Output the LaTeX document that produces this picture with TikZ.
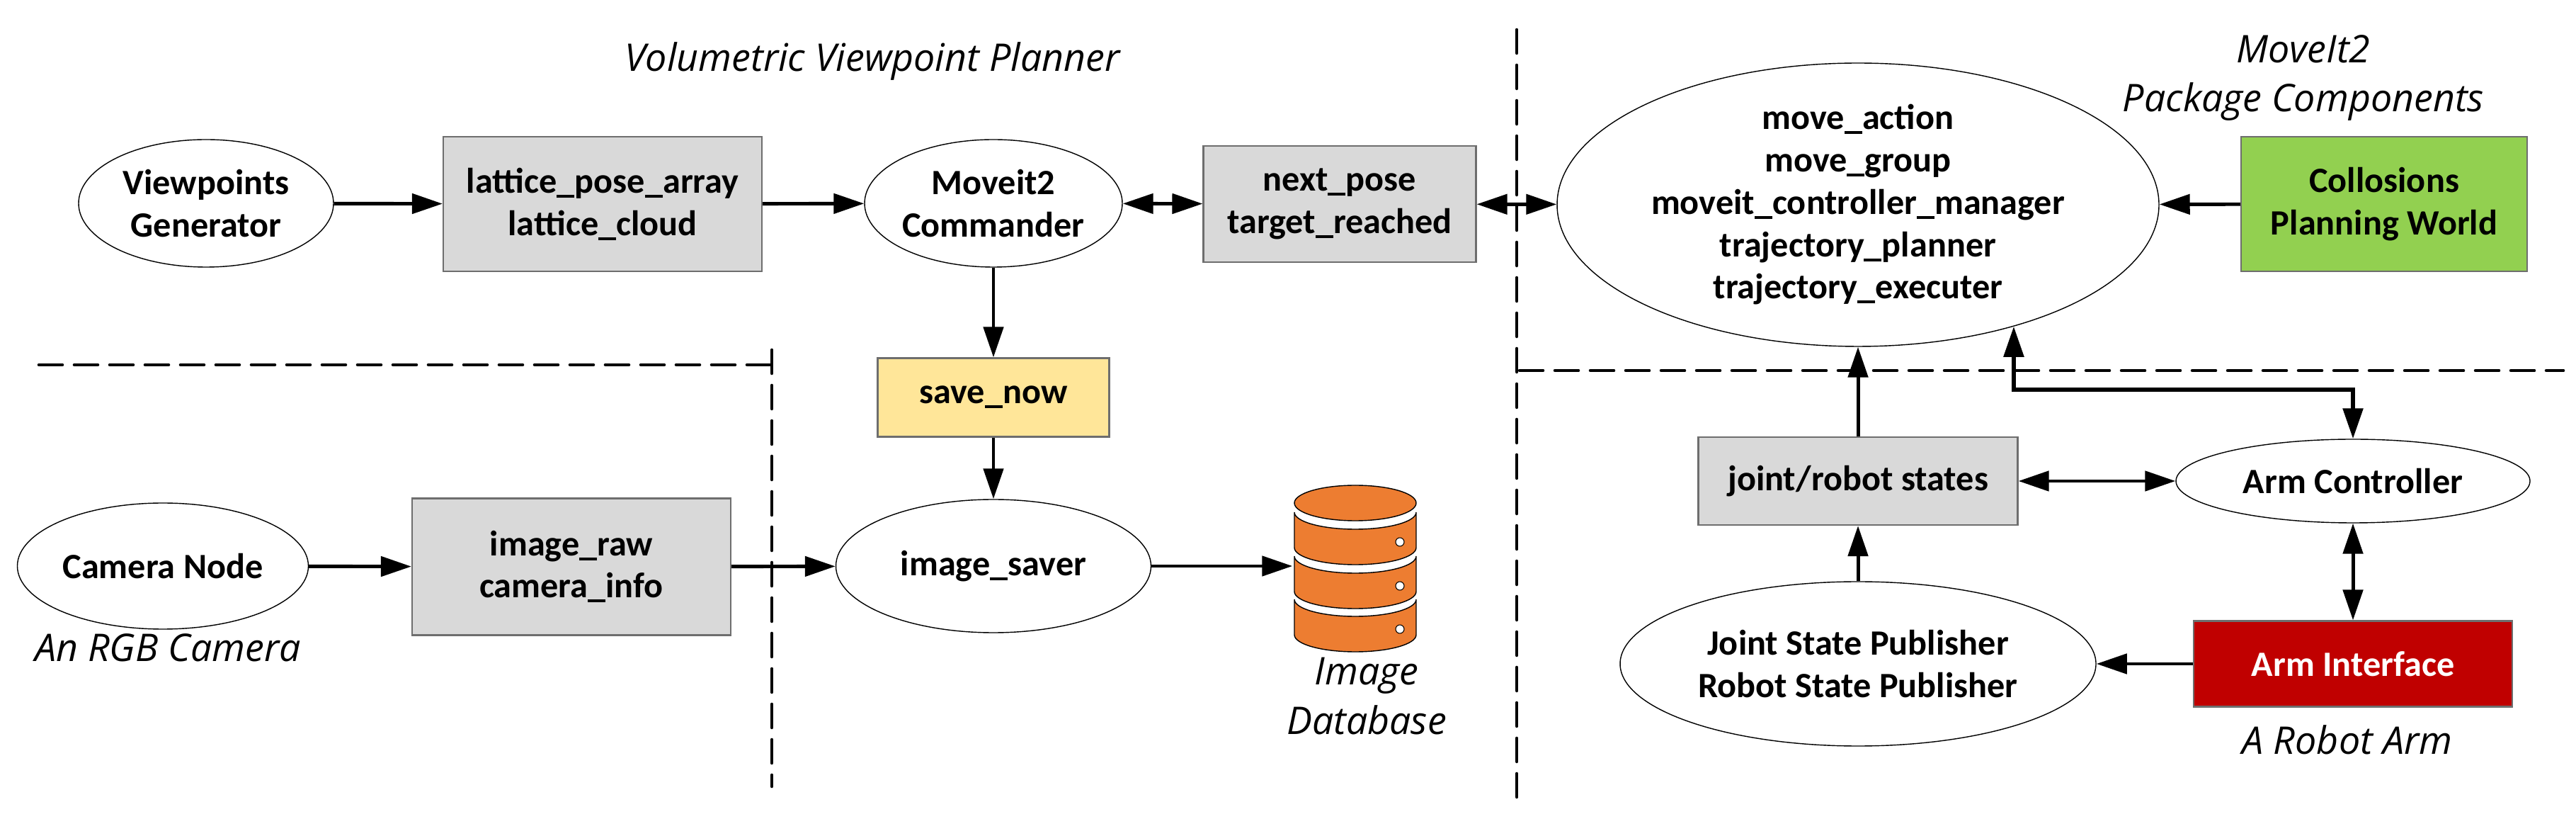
\documentclass[tikz,border=0pt]{standalone}
\usepackage{fontspec}
\usepackage{xcolor}
\usetikzlibrary{positioning, calc, arrows.meta, shapes.geometric}
\setmainfont{Carlito}
\newfontfamily\labelfont{Open Sans}
\definecolor{topicgray}{RGB}{217, 217, 217}
\definecolor{topicedge}{RGB}{110, 110, 110}
\definecolor{savegold}{RGB}{255, 230, 153}
\definecolor{worldgreen}{RGB}{146, 208, 80}
\definecolor{armred}{RGB}{192, 0, 0}
\definecolor{dborange}{RGB}{237, 125, 49}
\tikzset{
    rosnode/.style={
        ellipse, draw=black, line width=0.4pt, fill=white, inner sep=0pt, align=center,
        font=\bfseries\fontsize{14.3}{17}\selectfont
    },
    topicnode/.style={
        rectangle, draw=topicedge, line width=0.6pt, fill=topicgray, inner sep=0pt, align=center,
        font=\bfseries\fontsize{14.3}{17}\selectfont
    },
    notelabel/.style={
        align=center, inner sep=0pt, font=\labelfont\itshape\fontsize{15.3}{19.9}\selectfont
    },
    flow/.style={
        -{Triangle[length=4.3mm, width=2.8mm]}, line width=1.4pt
    },
    biflow/.style={
        {Triangle[length=4.3mm, width=2.8mm]}-{Triangle[length=4.3mm, width=2.8mm]}, line width=1.4pt
    },
    divider/.style={
        line width=1.3pt, line cap=round, dash pattern=on 3.3mm off 1.7mm
    },
    dbpart/.style={
        draw=black, line width=0.4pt, fill=dborange
    }
}

\begin{document}
\begin{tikzpicture}
    \useasboundingbox (0,0) rectangle (36.38,-11.56);

    % --- 1. dividers ---
    \draw[divider] (21.42,-0.42) -- (21.42,-11.25);
    \draw[divider] (21.46,-5.23) -- (36.20,-5.23);
    \draw[divider] (0.55,-5.15) -- (10.90,-5.15);
    \draw[divider] (10.90,-4.94) -- (10.90,-11.10);

    % --- 2. planner nodes ---
    \node[rosnode, minimum width=3.60cm, minimum height=1.80cm] (vpgen) at (2.91,-2.87) {Viewpoints\\Generator};
    \node[topicnode, minimum width=4.50cm, minimum height=1.90cm] (lattice) at (8.51,-2.88) {lattice\_pose\_array\\lattice\_cloud};
    \node[rosnode, minimum width=3.64cm, minimum height=1.80cm] (commander) at (14.03,-2.87) {Moveit2\\Commander};
    \node[topicnode, minimum width=3.85cm, minimum height=1.64cm] (nextpose) at (18.92,-2.88) {next\_pose\\target\_reached};
    \node[topicnode, fill=savegold, minimum width=3.27cm, minimum height=1.11cm] (savenow) at (14.03,-5.61) {save\_now};
    \node[rosnode, minimum width=4.45cm, minimum height=1.88cm] (saver) at (14.03,-7.99) {image\_saver};
    \node[rosnode, minimum width=4.11cm, minimum height=1.78cm] (camera) at (2.30,-7.99) {Camera Node};
    \node[topicnode, minimum width=4.50cm, minimum height=1.93cm] (imageraw) at (8.07,-8.00) {image\_raw\\camera\_info};

    % --- 3. database ---
    \node[minimum width=1.76cm, minimum height=2.34cm, inner sep=0pt] (imgdb) at (19.14,-8.02) {};
    \foreach \ytop in {7.23, 7.85, 8.46} {
        \path[dbpart] (18.28,-\ytop) -- ++(0,-0.50)
            arc[start angle=180, end angle=360, x radius=0.86, y radius=0.24]
            -- ++(0,0.50)
            arc[start angle=360, end angle=180, x radius=0.86, y radius=0.24] -- cycle;
        \fill[white] (19.77,-\ytop-0.42) circle (0.06);
        \draw[line width=0.3pt] (19.77,-\ytop-0.42) circle (0.06);
    }
    \path[dbpart] (19.14,-7.10) ellipse (0.86 and 0.25);

    % --- 4. moveit and arm nodes ---
    \node[rosnode, minimum width=8.50cm, minimum height=3.62cm] (moveit) at (26.24,-2.89) {move\_action\\move\_group\\moveit\_controller\_manager\\trajectory\_planner\\trajectory\_executer};
    \node[topicnode, fill=worldgreen, minimum width=4.04cm, minimum height=1.90cm] (world) at (33.67,-2.88) {Collosions\\Planning World};
    \node[topicnode, minimum width=4.51cm, minimum height=1.24cm] (states) at (26.24,-6.79) {joint/robot states};
    \node[rosnode, minimum width=5.00cm, minimum height=1.18cm] (armctl) at (33.23,-6.79) {Arm Controller};
    \node[rosnode, minimum width=6.72cm, minimum height=2.32cm] (publisher) at (26.24,-9.37) {Joint State Publisher\\Robot State Publisher};
    \node[topicnode, fill=armred, text=white, minimum width=4.50cm, minimum height=1.21cm] (armif) at (33.23,-9.37) {Arm Interface};

    % --- 5. labels ---
    \node[notelabel] (plannertitle) at (12.32,-0.87) {Volumetric Viewpoint Planner};
    \node[notelabel] (movetitle) at (32.53,-1.10) {MoveIt2\\Package Components};
    \node[notelabel] (cameralabel) at (2.37,-9.14) {An RGB Camera};
    \node[notelabel] (dblabel) at (19.30,-9.83) {Image\\Database};
    \node[notelabel] (armlabel) at (33.15,-10.44) {A Robot Arm};

    % --- 6. connectors ---
    \draw[flow] (vpgen) -- (lattice);
    \draw[flow] (lattice) -- (commander);
    \draw[biflow] (commander) -- (nextpose);
    \draw[biflow] (nextpose) -- (moveit);
    \draw[flow] (world) -- (moveit);
    \draw[flow] (commander) -- (savenow);
    \draw[flow] (savenow) -- (saver);
    \draw[flow] (camera) -- (imageraw);
    \draw[flow] (imageraw) -- (saver);
    \draw[flow] (saver) -- (saver -| imgdb.west);
    \draw[flow] (states) -- (moveit);
    \draw[flow] (publisher) -- (states);
    \draw[biflow] (states) -- (armctl);
    \draw[biflow] (armctl) -- (armif);
    \draw[flow] (armif) -- (publisher);
    \coordinate (armbus) at (30.00,-5.50);
    \draw[biflow, line width=1.6pt] (moveit.-38) |- (armbus) -| (armctl.north);
\end{tikzpicture}
\end{document}
